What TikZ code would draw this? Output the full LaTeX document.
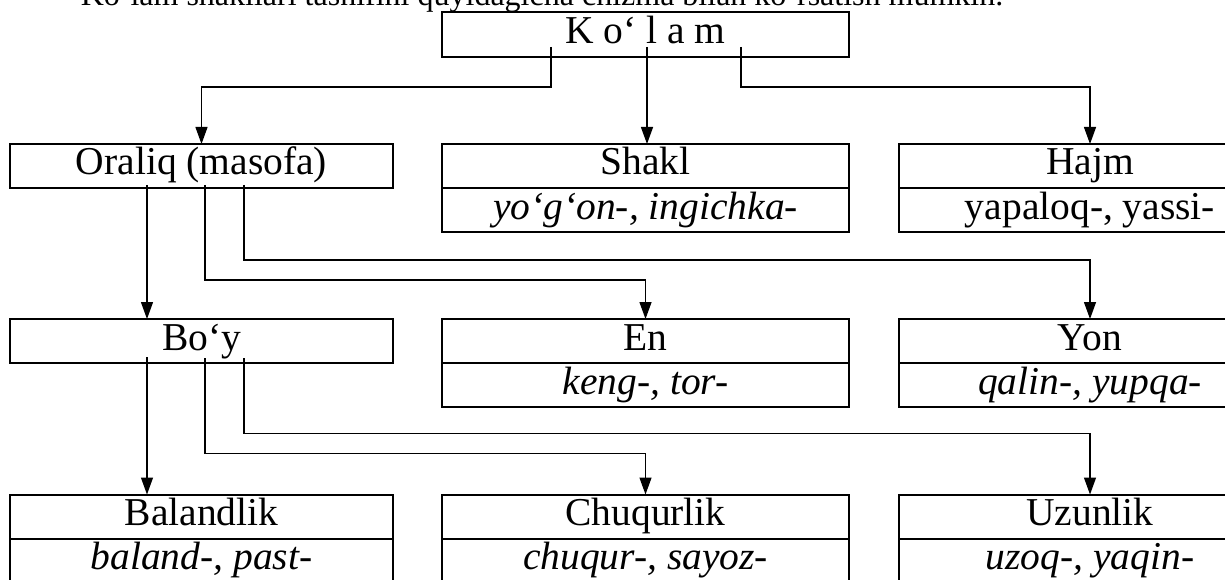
\documentclass[tikz,border=0pt]{standalone}
\usepackage{fontspec}
\setmainfont{Liberation Serif}
\usepackage{tikz}
\usetikzlibrary{positioning,arrows.meta}

\begin{document}
\begin{tikzpicture}[x=1pt,y=1pt,yscale=-1,xscale=1,
  cell/.style={draw,line width=2pt,inner sep=0pt,outer sep=0pt,minimum height=44pt,
    text height=29.5pt,text depth=11.5pt,font=\fontsize{39.5}{44}\selectfont},
  wide/.style={cell,minimum width=407pt},
  narrow/.style={cell,minimum width=383pt},
  conn/.style={line width=1.3pt,-{Triangle[length=17pt,width=12pt]}}]
\useasboundingbox (0,0) rectangle (1225,580);
\clip (0,0) rectangle (1225,580);

% Text Node
\node [anchor=base,inner sep=0pt,font=\fontsize{32}{36}\selectfont] (title) at (542,6)
  {Ko‘lam shakllari tasnifini quyidagicha chizma bilan ko‘rsatish mumkin.};

%Boxes
\node [wide,minimum height=45pt] (kolam) at (645.5,34.5) {K o‘ l a m};

\node [narrow] (oraliq) at (201.5,166) {Oraliq (masofa)};
\node [wide] (shakl) at (645.5,166) {Shakl};
\node [wide,below=0pt of shakl] (shaklx) {\textit{yo‘g‘on-, ingichka-}};
\node [narrow] (hajm) at (1090,166) {Hajm};
\node [narrow,below=0pt of hajm] (hajmx) {yapaloq-, yassi-};

\node [narrow] (boy) at (201.5,341) {Bo‘y};
\node [wide] (en) at (645.5,341) {En};
\node [wide,below=0pt of en] (enx) {\textit{keng-, tor-}};
\node [narrow] (yon) at (1090,341) {Yon};
\node [narrow,below=0pt of yon] (yonx) {\textit{qalin-, yupqa-}};

\node [narrow] (baland) at (201.5,516.5) {Balandlik};
\node [narrow,below=0pt of baland] (balandx) {\textit{baland-, past-}};
\node [wide] (chuqur) at (645.5,516.5) {Chuqurlik};
\node [wide,below=0pt of chuqur] (chuqurx) {\textit{chuqur-, sayoz-}};
\node [narrow] (uzun) at (1090,516.5) {Uzunlik};
\node [narrow,below=0pt of uzun] (uzunx) {\textit{uzoq-, yaqin-}};

%Straight Lines
\draw [conn] ([xshift=-94.5pt,yshift=-10pt]kolam.south) |- ([yshift=-57pt]oraliq.north) -- (oraliq.north);
\draw [conn] ([xshift=1.5pt,yshift=-10pt]kolam.south) -- ([xshift=1.5pt]shakl.north);
\draw [conn] ([xshift=95.5pt,yshift=-10pt]kolam.south) |- ([yshift=-57pt]hajm.north) -- (hajm.north);

\draw [conn] ([xshift=-54.5pt,yshift=-3pt]oraliq.south) -- ([xshift=-54.5pt]boy.north);
\draw [conn] ([xshift=3.5pt,yshift=-3pt]oraliq.south) |- ([yshift=-39pt]en.north) -- (en.north);
\draw [conn] ([xshift=42.5pt,yshift=-3pt]oraliq.south) |- ([yshift=-59pt]yon.north) -- (yon.north);

\draw [conn] ([xshift=-54.5pt,yshift=-6pt]boy.south) -- ([xshift=-54.5pt]baland.north);
\draw [conn] ([xshift=3.5pt,yshift=-5pt]boy.south) |- ([yshift=-41pt]chuqur.north) -- (chuqur.north);
\draw [conn] ([xshift=42.5pt,yshift=-5pt]boy.south) |- ([yshift=-61pt]uzun.north) -- (uzun.north);

\end{tikzpicture}
\end{document}
